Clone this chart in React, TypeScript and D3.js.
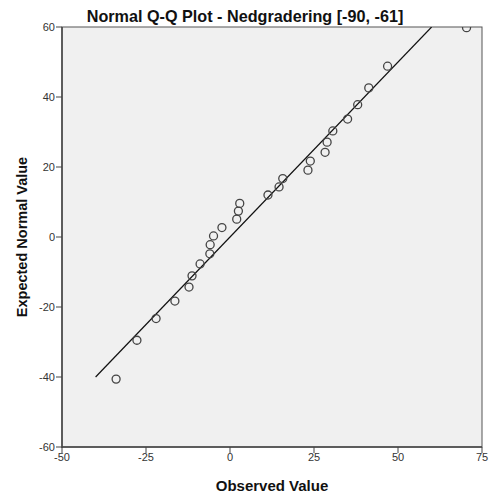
import React from "react";
import * as d3 from "d3";

const observed = [-33.9, -27.7, -22.0, -16.4, -12.2, -11.3, -8.9, -6.0, -5.9, -4.9, -2.4, 2.0, 2.5, 2.9, 11.3, 14.6, 15.7, 23.2, 23.9, 28.3, 28.9, 30.6, 35.0, 38.0, 41.3, 46.9, 70.4];
const expected = [-40.6, -29.5, -23.3, -18.3, -14.3, -11.1, -7.7, -4.8, -2.2, 0.3, 2.7, 5.1, 7.4, 9.6, 12.0, 14.3, 16.7, 19.1, 21.7, 24.2, 27.1, 30.3, 33.7, 37.8, 42.6, 48.8, 59.8];
const xTicks = [-50, -25, 0, 25, 50, 75];
const yTicks = [-60, -40, -20, 0, 20, 40, 60];
const refLine = [-40, 60];

const title = "Normal Q-Q Plot - Nedgradering [-90, -61]";
const xTitle = "Observed Value";
const yTitle = "Expected Normal Value";

export default function App() {
  const W = 490, H = 500;
  const L = 62, R = 482, T = 27, B = 447;
  const x = d3.scaleLinear().domain([-50, 75]).range([L, R]);
  const y = d3.scaleLinear().domain([-60, 60]).range([B, T]);
  const font = "'Liberation Sans', Arial, sans-serif";
  const line = d3.line<number>().x((d) => x(d)).y((d) => y(d));
  return (
    <svg width={W} height={H} style={{ position: "absolute", left: 0, top: 0 }} fontFamily={font}>
      <defs>
        <clipPath id="plot">
          <rect x={L} y={T} width={R - L} height={B - T} />
        </clipPath>
      </defs>
      <rect x={0} y={0} width={W} height={H} fill="#fff" />
      <rect x={L} y={T} width={R - L} height={B - T} fill="#f0f0f0" stroke="#555" strokeWidth={1} />
      <text x={245} y={22} textAnchor="middle" fontSize={16.2} fontWeight="bold" fill="#111">{title}</text>
      <g clipPath="url(#plot)">
        <path d={line(refLine) || ""} stroke="#111" strokeWidth={1.2} fill="none" />
        {observed.map((o, i) => (
          <circle key={i} cx={x(o)} cy={y(expected[i])} r={4} fill="none" stroke="#444" strokeWidth={1.3} />
        ))}
      </g>
      <line x1={L} x2={L} y1={T} y2={B + 1} stroke="#444" strokeWidth={1.5} />
      <line x1={L} x2={R} y1={B} y2={B} stroke="#444" strokeWidth={1.5} />
      {yTicks.map((t) => (
        <g key={"y" + t}>
          <line x1={L - 6} x2={L} y1={y(t)} y2={y(t)} stroke="#444" strokeWidth={1} />
          <text x={L - 7} y={y(t)} dy="0.35em" textAnchor="end" fontSize={11} fill="#333">{t}</text>
        </g>
      ))}
      {xTicks.map((t) => (
        <g key={"x" + t}>
          <line x1={x(t)} x2={x(t)} y1={B} y2={B + 6} stroke="#444" strokeWidth={1} />
          <text x={x(t)} y={B + 14} textAnchor="middle" fontSize={11} fill="#333">{t}</text>
        </g>
      ))}
      <text x={272} y={491} textAnchor="middle" fontSize={15} fontWeight="bold" fill="#111">{xTitle}</text>
      <text transform={`translate(27,${(T + B) / 2}) rotate(-90)`} textAnchor="middle" fontSize={14.5} fontWeight="bold" fill="#111">{yTitle}</text>
    </svg>
  );
}
